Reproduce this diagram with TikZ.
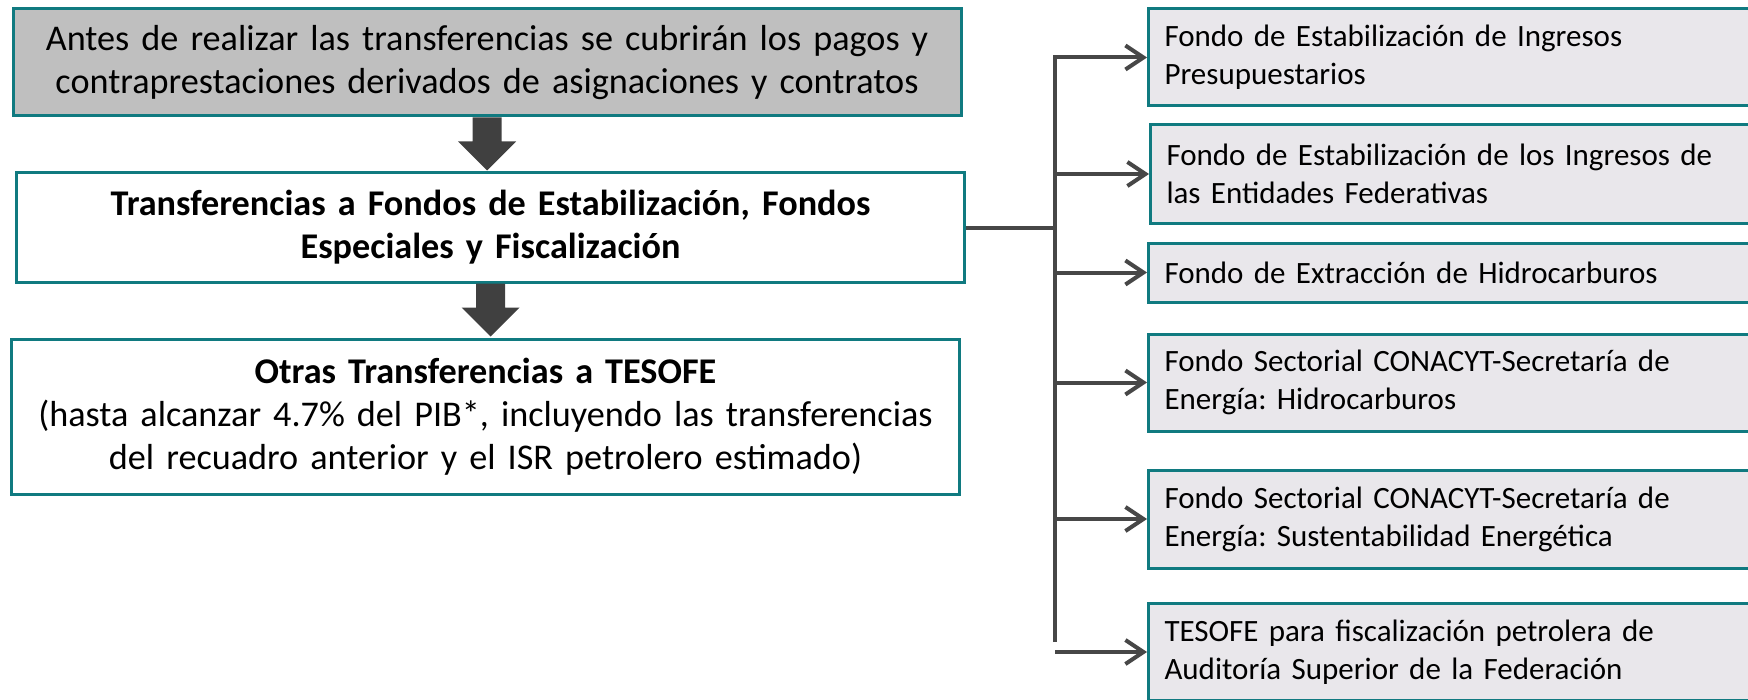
\documentclass[tikz,border=0pt]{standalone}
\usepackage{fontspec}
\setmainfont{Carlito}
\frenchspacing
\usetikzlibrary{arrows.meta}
\definecolor{tealborde}{HTML}{107A80}
\definecolor{grisfondo}{HTML}{BFBFBF}
\definecolor{grisclaro}{HTML}{E9E7EB}
\definecolor{grisflecha}{HTML}{404040}
\definecolor{grislinea}{HTML}{474747}
\tikzset{
  cajaizq/.style={draw=tealborde, line width=1.5pt, align=center, text width=466pt,
    minimum width=474pt, inner sep=3pt, font=\fontsize{18.1}{21.5}\selectfont},
  cajader/.style={draw=tealborde, line width=1.5pt, fill=grisclaro, anchor=west, align=left,
    text width=292pt, inner xsep=8pt, inner ysep=3pt, font=\fontsize{15.5}{19}\selectfont},
  enlace/.style={draw=grislinea, line width=2pt},
  flecha/.style={enlace, -{Straight Barb[length=9pt,width=12pt,line width=2pt]}},
  bloque/.style={fill=grisflecha}
}
\begin{document}
\begin{tikzpicture}[x=0.5pt,y=-0.5pt]
\useasboundingbox (0,0) rectangle (1748,700);

\node[cajaizq, fill=grisfondo, minimum height=53.5pt] (antes) at (487,62.5)
  {Antes de realizar las transferencias se cubrirán los pagos y\\contraprestaciones derivados de asignaciones y contratos};
\node[cajaizq, minimum height=54.5pt] (fondos) at (490.5,227.5)
  {\bfseries Transferencias a Fondos de Estabilización, Fondos\\\bfseries Especiales y Fiscalización};
\node[cajaizq, minimum height=77.5pt] (tesofe) at (485.5,416.5)
  {\textbf{Otras Transferencias a TESOFE}\\(hasta alcanzar 4.7\% del PIB*, incluyendo las transferencias\\del recuadro anterior y el ISR petrolero estimado)};

\fill[bloque] (antes.south) ++(-14.5,0) -- ++(29,0) -- ++(0,24) -- ++(14.5,0) -- ++(-29,29) -- ++(-29,-29) -- ++(14.5,0) -- cycle;
\fill[bloque] (fondos.south) ++(-14.5,0) -- ++(29,0) -- ++(0,24) -- ++(14.5,0) -- ++(-29,29) -- ++(-29,-29) -- ++(14.5,0) -- cycle;

\node[cajader, minimum height=48.5pt] (f1) at (1147,57.5)
  {Fondo de Estabilización de Ingresos\\Presupuestarios};
\node[cajader, minimum height=49pt] (f2) at (1149,174)
  {Fondo de Estabilización de los Ingresos de\\las Entidades Federativas};
\node[cajader, minimum height=29.5pt] (f3) at (1147,272.5)
  {Fondo de Extracción de Hidrocarburos};
\node[cajader, minimum height=48.5pt] (f4) at (1147,382.5)
  {Fondo Sectorial CONACYT-Secretaría de\\Energía: Hidrocarburos};
\node[cajader, minimum height=49pt] (f5) at (1147,519)
  {Fondo Sectorial CONACYT-Secretaría de\\Energía: Sustentabilidad Energética};
\node[cajader, minimum height=48.5pt] (f6) at (1147,652)
  {TESOFE para fiscalización petrolera de\\Auditoría Superior de la Federación};

\coordinate (tronco) at (1055,642);
\draw[enlace] (fondos.east) -- (fondos.east -| tronco);
\draw[flecha] (tronco) |- (f1.west);
\draw[flecha] (tronco |- f2.west) -- (f2.west);
\draw[flecha] (tronco |- f3.west) -- (f3.west);
\draw[flecha] (tronco |- f4.west) -- (f4.west);
\draw[flecha] (tronco |- f5.west) -- (f5.west);
\draw[flecha] (tronco |- f6.west) -- (f6.west);
\end{tikzpicture}
\end{document}
